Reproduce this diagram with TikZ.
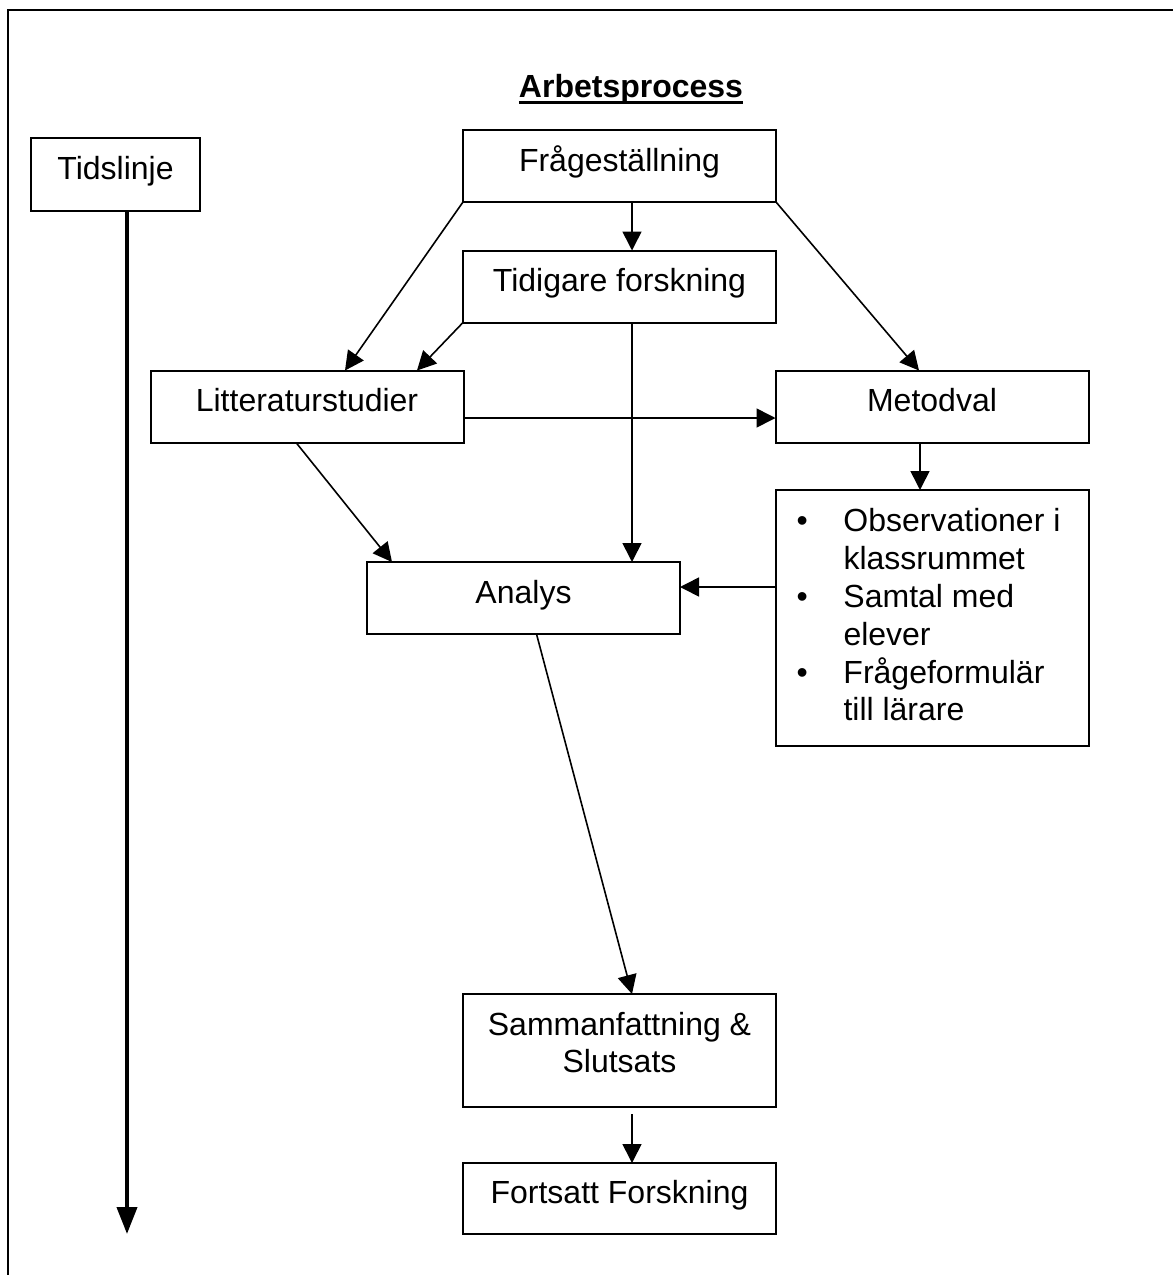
\documentclass[tikz,border=0pt]{standalone}
\usepackage{fontspec}
\setmainfont{Liberation Sans}
\usetikzlibrary{arrows.meta}
\newcommand\ulword[1]{\setbox0\hbox{#1}\rlap{\rule[-6.6pt]{\wd0}{2.6pt}}\box0}
\newcommand\bxt[4]{\parbox[c][#2][t]{#1}{\centering\vspace*{#3}\strut#4\par}}
\begin{document}
\begin{tikzpicture}[x=1pt,y=-1pt,
  box/.style={draw, line width=2pt, rectangle, inner sep=0pt, outer sep=0pt,
    font=\fontsize{32pt}{37pt}\selectfont},
  conn/.style={line width=1.6pt, -{Triangle[length=19pt,width=19pt]}},
  tline/.style={line width=4pt, -{Triangle[length=27pt,width=20pt]}},
  frame/.style={line width=2pt}]
\useasboundingbox (0,0) rectangle (1173,1275);
\draw[frame] (8,1280) -- (8,10) -- (1180,10);

\node[anchor=base, font=\fontsize{32pt}{37pt}\selectfont\bfseries] (title) at (631,97) {\ulword{Arbetsprocess}};

\node[box] (tids) at (115.5,174.5) {\bxt{169pt}{73pt}{15.1pt}{Tidslinje}};
\node[box] (fr) at (619.5,166) {\bxt{313pt}{72pt}{15.1pt}{Frågeställning}};
\node[box] (tid) at (619.5,286.5) {\bxt{313pt}{72pt}{15.1pt}{Tidigare forskning}};
\node[box] (litt) at (307,406.5) {\bxt{313pt}{72pt}{15.1pt}{Litteraturstudier}};
\node[box] (metod) at (932,406.5) {\bxt{313pt}{72pt}{15.1pt}{Metodval}};
\node[box] (analys) at (523.5,598) {\bxt{313pt}{72pt}{15.1pt}{Analys}};
\node[box] (sam) at (619.5,1050.5) {\bxt{313pt}{113pt}{15.1pt}{Sammanfattning \&\\Slutsats}};
\node[box] (fort) at (619.5,1198.5) {\bxt{313pt}{71pt}{14.6pt}{Fortsatt Forskning}};
\node[box] (obs) at (932,618) {\parbox[c][256pt][t]{313pt}{\fontsize{32pt}{37.8pt}\selectfont\raggedright
  \vspace*{15.5pt}\strut\hspace*{21pt}\makebox[47pt][l]{•}Observationer i\\
  \hspace*{68pt}klassrummet\\
  \hspace*{21pt}\makebox[47pt][l]{•}Samtal med\\
  \hspace*{68pt}elever\\
  \hspace*{21pt}\makebox[47pt][l]{•}Frågeformulär\\
  \hspace*{68pt}till lärare\par}};

\coordinate (tend) at (127,1234);
\draw[tline] ([xshift=11.5pt]tids.south) -- (tend);

\draw[conn] ([xshift=12.5pt]fr.south) -- ([xshift=12.5pt]tid.north);
\draw[conn] (fr.south west) -- ([xshift=38pt]litt.north);
\draw[conn] (fr.south east) -- ([xshift=-13pt]metod.north);
\draw[conn] (tid.south west) -- ([xshift=110pt]litt.north);
\draw[conn] ([xshift=12.5pt]tid.south) -- ([xshift=12.5pt]tid.south |- analys.north);
\draw[conn] ([yshift=-11.5pt]litt.east) -- ([yshift=-11.5pt]litt.east -| metod.west);
\draw[conn] ([xshift=-11pt]litt.south) -- ([xshift=-131.5pt]analys.north);
\draw[conn] ([xshift=-12pt]metod.south) -- ([xshift=-12pt]obs.north);
\draw[conn] ([yshift=11pt]analys.east -| obs.west) -- ([yshift=11pt]analys.east);
\draw[conn] ([xshift=13pt]analys.south) -- ([xshift=12.5pt]sam.north);
\draw[conn, shorten <=7pt] ([xshift=12.5pt]sam.south) -- ([xshift=12.5pt]fort.north);
\end{tikzpicture}
\end{document}
